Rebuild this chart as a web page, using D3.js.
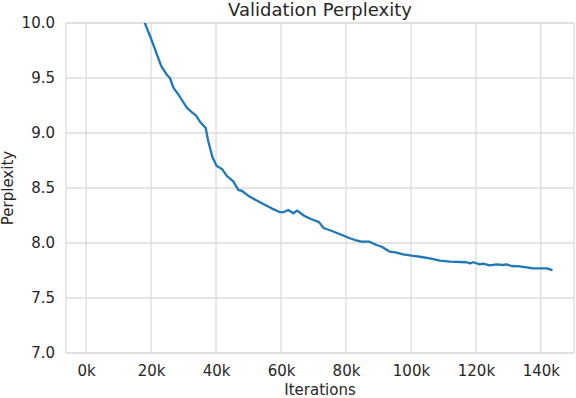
<!DOCTYPE html>
<html>
<head>
<meta charset="utf-8">
<script src="https://cdn.jsdelivr.net/npm/d3@7"></script>
<style>
  body { margin: 0; background: #fff; }
  text { font-family: "DejaVu Sans", sans-serif; fill: #262626; }
</style>
</head>
<body>
<div id="chart"></div>
<script>
const width = 576
const height = 398

// iterations (thousands)
const iters = [17.0, 18.2, 19.7, 21.2, 23.1, 24.8, 25.8, 26.9, 28.4, 31.0, 32.5, 33.8, 35.1, 36.8, 37.6,
    38.9, 40.2, 41.9, 43.3, 45.3, 46.9, 47.9, 49.9, 53.5, 57.1, 59.7, 60.7, 62.2, 63.8, 65.0,
    67.1, 69.2, 71.7, 73.1, 75.7, 78.2, 81.2, 82.8, 84.8, 87.2, 89.4, 91.0, 93.5, 95.6, 97.6,
    100.7, 102.8, 105.8, 108.9, 112.0, 117.1, 118.2, 119.2, 121.2, 122.2, 124.3, 126.4, 128.4,
    129.4, 131.0, 133.5, 135.6, 137.6, 141.8, 143.3];
const perplexity = [10.12, 9.99, 9.88, 9.76, 9.61, 9.53, 9.50, 9.41, 9.35, 9.23, 9.19, 9.16, 9.10, 9.045, 8.925,
    8.78, 8.70, 8.67, 8.61, 8.56, 8.48, 8.475, 8.43, 8.37, 8.315, 8.28, 8.28, 8.30, 8.27, 8.295,
    8.248, 8.218, 8.19, 8.136, 8.109, 8.08, 8.043, 8.027, 8.012, 8.012, 7.982, 7.966, 7.921, 7.912, 7.897,
    7.882, 7.875, 7.861, 7.839, 7.830, 7.825, 7.815, 7.825, 7.806, 7.812, 7.797, 7.806, 7.800,
    7.806, 7.791, 7.788, 7.779, 7.770, 7.770, 7.755];
const xTicks = [0, 20, 40, 60, 80, 100, 120, 140];
const yTicks = [7.0, 7.5, 8.0, 8.5, 9.0, 9.5, 10.0];

const margin = {top: 23, right: 2, bottom: 45, left: 66};
const gridColor = '#dcdcdc';

const svg = d3.select('#chart').append('svg')
    .attr('width', width)
    .attr('height', height);

const x = d3.scaleLinear()
    .domain([-6.2, 150.2])
    .range([margin.left, width - margin.right]);
const y = d3.scaleLinear()
    .domain([7.0, 10.0])
    .range([height - margin.bottom, margin.top]);

// grid
svg.append('g')
    .selectAll('line')
    .data(xTicks)
    .join('line')
    .attr('x1', d => x(d)).attr('x2', d => x(d))
    .attr('y1', margin.top).attr('y2', height - margin.bottom)
    .attr('stroke', gridColor).attr('stroke-width', 1.3);
svg.append('g')
    .selectAll('line')
    .data(yTicks)
    .join('line')
    .attr('x1', margin.left).attr('x2', width - margin.right)
    .attr('y1', d => y(d)).attr('y2', d => y(d))
    .attr('stroke', gridColor).attr('stroke-width', 1.3);

// frame
svg.append('rect')
    .attr('x', margin.left).attr('y', margin.top)
    .attr('width', width - margin.right - margin.left)
    .attr('height', height - margin.bottom - margin.top)
    .attr('fill', 'none')
    .attr('stroke', gridColor).attr('stroke-width', 1.3);

// axes (ticks hidden, labels only)
const xAxis = svg.append('g')
    .attr('transform', `translate(0,${height - margin.bottom})`)
    .call(d3.axisBottom(x).tickValues(xTicks).tickFormat(d => d + 'k').tickSize(0).tickPadding(0));
xAxis.select('.domain').remove();
xAxis.selectAll('text')
    .attr('y', 23)
    .attr('dy', null)
    .style('font-size', '15px')
    .style('font-family', '"DejaVu Sans", sans-serif')
    .attr('fill', '#262626');

const yAxis = svg.append('g')
    .attr('transform', `translate(${margin.left},0)`)
    .call(d3.axisLeft(y).tickValues(yTicks).tickFormat(d3.format('.1f')).tickSize(0).tickPadding(11));
yAxis.select('.domain').remove();
yAxis.selectAll('text')
    .style('font-size', '15px')
    .style('font-family', '"DejaVu Sans", sans-serif')
    .attr('fill', '#262626');

// clip for line
svg.append('clipPath').attr('id', 'clip')
    .append('rect')
    .attr('x', margin.left).attr('y', margin.top)
    .attr('width', width - margin.right - margin.left)
    .attr('height', height - margin.bottom - margin.top);

const line = d3.line()
    .x((d, i) => x(iters[i]))
    .y(d => y(d));

svg.append('path')
    .datum(perplexity)
    .attr('clip-path', 'url(#clip)')
    .attr('d', line)
    .attr('fill', 'none')
    .attr('stroke', '#1f77b4')
    .attr('stroke-width', 2.3)
    .attr('stroke-linejoin', 'round')
    .attr('stroke-linecap', 'round');

// labels
svg.append('text')
    .attr('x', (margin.left + width - margin.right) / 2)
    .attr('y', 16)
    .attr('text-anchor', 'middle')
    .style('font-size', '18px')
    .text('Validation Perplexity');

svg.append('text')
    .attr('x', (margin.left + width - margin.right) / 2)
    .attr('y', 395)
    .attr('text-anchor', 'middle')
    .style('font-size', '15px')
    .text('Iterations');

svg.append('text')
    .attr('transform', `translate(13,${(margin.top + height - margin.bottom) / 2}) rotate(-90)`)
    .attr('text-anchor', 'middle')
    .style('font-size', '15px')
    .text('Perplexity');
</script>
</body>
</html>
